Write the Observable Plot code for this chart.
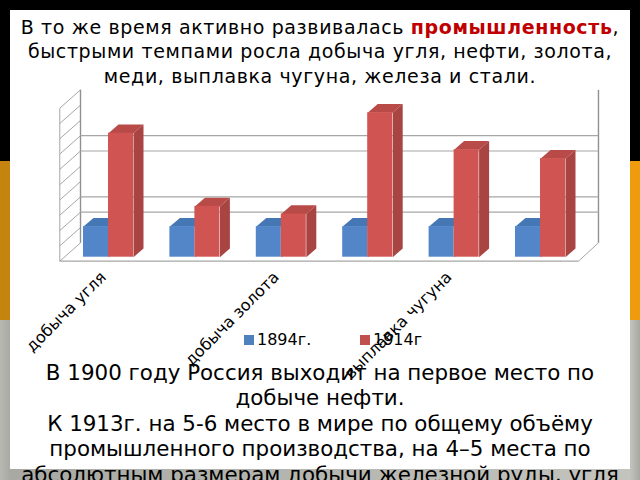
<!DOCTYPE html>
<html lang="ru"><head><meta charset="utf-8">
<script src="https://cdn.jsdelivr.net/npm/d3@7"></script>
<script src="https://cdn.jsdelivr.net/npm/@observablehq/plot@0.6"></script>
<style>
html,body{margin:0;padding:0;width:640px;height:480px;overflow:hidden;font-family:"DejaVu Sans",sans-serif;color:#000}
#stage{position:relative;width:640px;height:480px;overflow:hidden;background:#000}
.band{position:absolute;left:0;width:640px}
#orange{top:161px;height:159px;background:linear-gradient(to right,#c5830f 0,#c5830f 10px,#ee9c0e 630px,#ee9c0e 640px)}
#gray{top:320px;height:160px;background:linear-gradient(to right,#b9b8b2 0,#a9a9a3 10px,#c4c4be 630px,#a8a8a3 640px)}
#panel{position:absolute;left:10px;top:10px;width:620px;height:459px;background:#fff}
#chart{position:absolute;left:0;top:0}
#chart svg{background:transparent}
.t{position:absolute;left:0;width:640px;text-align:center;white-space:nowrap}
#title{top:14.5px;font-size:19px;line-height:24.5px;letter-spacing:.62px}
#title b{color:#c00000}
#para{top:360px;font-size:21.4px;line-height:25.4px}
.lg{position:absolute;top:332px;font-size:16px;line-height:16px;white-space:nowrap}
.sw{position:absolute;width:10px;height:10px;top:335px}
</style></head><body>
<div id="stage">
<div class="band" id="orange"></div><div class="band" id="gray"></div>
<div id="panel"></div>
<div id="chart"></div>
<div class="t" id="title">В то же время активно развивалась <b>промышленность</b>,<br>быстрыми темпами росла добыча угля, нефти, золота,<br>меди, выплавка чугуна, железа и стали.</div>
<div class="sw" style="left:244px;background:#4f81bd"></div><div class="lg" style="left:257px">1894г.</div>
<div class="sw" style="left:360px;background:#c0504d"></div><div class="lg" style="left:373px">1914г</div>
<div class="t" id="para">В 1900 году Россия выходит на первое место по<br>добыче нефти.<br>К 1913г. на 5-6 место в мире по общему объёму<br>промышленного производства, на 4–5 места по<br>абсолютным размерам добычи железной руды, угля</div>
</div>
<script>
const categories = ["добыча угля","добыча нефти","добыча золота","добыча меди","выплавка чугуна","выплавка стали"];
const values1894 = [100,100,100,100,100,100];
const values1914 = [405,166,141,472,351,322];
const gridValues = [100,150,300,350];
const wallTicks = [0,50,100,150,200,250,300,350,400,450,500];

const barW = 0.2894, depthX = 0.1157, depthY = 28.4;
const backDy = 47, frontDy = -13;
const wallFront = -0.5637, wallBack = -0.324, rightFront = 5.44, rightBack = 5.671;
const wallColor = "#a6a6a6";

const series = [
  {vals:values1894, x0:i=>i-barW, front:"#5286c9", top:"#4577b4", side:"#3f6da6"},
  {vals:values1914, x0:i=>i,      front:"#d05452", top:"#b84a48", side:"#a84442"}
];
const bars = series.flatMap((s,si)=>s.vals.map((v,i)=>({id:si+"-"+i,x1:s.x0(i),x2:s.x0(i)+barW,v,...s})));
const face = (pts)=>bars.flatMap(b=>pts(b).map(([x,y])=>({id:b.id,x,y,b})));
const topFace = face(b=>[[b.x1,b.v],[b.x2,b.v],[b.x2+depthX,b.v+depthY],[b.x1+depthX,b.v+depthY]]);
const sideFace = face(b=>[[b.x2,0],[b.x2+depthX,depthY],[b.x2+depthX,b.v+depthY],[b.x2,b.v]]);
const poly = (data,color)=>Plot.line(data,{x:"x",y:"y",z:"id",fill:d=>d.b[color],stroke:"none",curve:"linear"});

const chart = Plot.plot({
  width:640,height:480,margin:0,
  style:{background:"transparent"},
  x:{domain:[0,6],range:[108,626.4],axis:null},
  y:{domain:[0,500],range:[256.7,103.7],axis:null},
  marks:[
    Plot.link(wallTicks,{x1:wallFront,y1:d=>d+frontDy,x2:wallBack,y2:d=>d+backDy,stroke:wallColor,strokeWidth:1}),
    Plot.link([0],{x1:wallFront,y1:d=>d+frontDy,x2:wallFront,y2:d=>d+500+frontDy,stroke:wallColor,strokeWidth:1}),
    Plot.link([0],{x1:wallBack,y1:d=>d+backDy,x2:wallBack,y2:d=>d+500+backDy,stroke:"#909090",strokeWidth:1.4}),
    Plot.link([0],{x1:rightBack,y1:d=>d+backDy,x2:rightBack,y2:d=>d+500+backDy,stroke:"#909090",strokeWidth:1.4}),
    Plot.link(gridValues,{x1:wallBack,y1:d=>d+backDy,x2:rightBack,y2:d=>d+backDy,stroke:wallColor,strokeWidth:1.2}),
    Plot.link([0],{x1:wallFront,y1:frontDy,x2:rightFront,y2:frontDy,stroke:wallColor,strokeWidth:1.2}),
    Plot.link([0],{x1:rightFront,y1:frontDy,x2:rightBack,y2:backDy,stroke:wallColor,strokeWidth:1}),
    poly(topFace,"top"),
    poly(sideFace,"side"),
    Plot.rect(bars,{x1:"x1",x2:"x2",y1:0,y2:"v",fill:"front",inset:0}),
    Plot.text(categories.filter((c,i)=>i%2===0),{
      x:(c,i)=>i*2,y:-50,text:d=>d,rotate:-45,textAnchor:"end",lineAnchor:"middle",
      fontSize:16,fontFamily:"DejaVu Sans",fill:"#000",dx:-5,dy:2
    })
  ]
});
document.getElementById("chart").append(chart);
</script>
</body></html>
